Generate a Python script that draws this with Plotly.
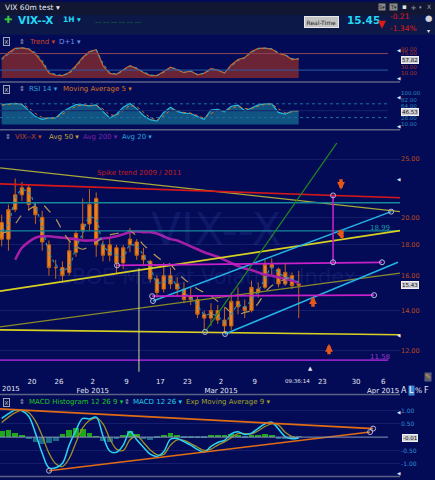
import math
import plotly.graph_objects as go

W, H = 435, 480
def X(px): return px / W
def Y(py): return 1 - py / H
def dom(top, bot): return [1 - bot / H, 1 - top / H]

BG = "#030b57"
FONT = "DejaVu Sans"

# ---------------- data (one value per session) ----------------
dates = ["2015-01-12","2015-01-13","2015-01-14","2015-01-15","2015-01-16","2015-01-20","2015-01-21",
         "2015-01-22","2015-01-23","2015-01-26","2015-01-27","2015-01-28","2015-01-29","2015-01-30",
         "2015-02-02","2015-02-03","2015-02-04","2015-02-05","2015-02-06","2015-02-09","2015-02-10",
         "2015-02-11","2015-02-12","2015-02-13","2015-02-17","2015-02-18","2015-02-19","2015-02-20",
         "2015-02-23","2015-02-24","2015-02-25","2015-02-26","2015-02-27","2015-03-02","2015-03-03",
         "2015-03-04","2015-03-05","2015-03-06","2015-03-09","2015-03-10","2015-03-11","2015-03-12",
         "2015-03-13","2015-03-16","2015-03-17"]
opens  = [19.6,18.4,20.6,21.8,22.4,20.8,20.0,18.0,16.5,16.5,16.2,17.5,19.0,19.5,21.5,18.0,17.3,17.8,16.8,
          18.0,18.2,17.3,16.9,15.8,15.2,16.0,15.5,15.2,14.8,14.6,13.8,13.6,14.0,13.5,13.2,14.5,14.2,14.0,
          15.2,15.3,16.7,16.4,15.5,16.0,15.5]
highs  = [20.2,21.0,23.2,22.9,22.7,21.2,20.5,18.3,17.0,16.9,18.4,19.0,21.5,22.3,22.0,18.3,18.5,18.0,18.0,
          19.2,18.4,17.8,17.0,16.0,16.8,16.5,15.9,15.6,15.3,14.8,14.0,14.4,14.3,14.2,15.0,15.3,14.6,15.7,
          15.6,17.0,17.1,16.5,16.8,16.2,16.3]
lows   = [17.9,17.6,20.4,21.3,20.5,19.5,17.6,16.0,15.8,15.6,16.0,17.2,18.4,19.0,17.2,16.9,16.9,16.1,16.4,
          17.5,17.0,16.6,15.6,14.7,15.0,15.2,14.8,14.4,14.3,13.6,13.0,13.2,13.3,12.85,13.0,13.8,13.6,13.9,
          14.7,15.2,16.0,15.3,15.4,15.2,13.6]
closes = [18.4,20.6,21.8,22.4,21.0,20.2,18.2,16.5,16.5,16.0,17.6,18.8,19.5,21.0,18.0,17.3,18.0,16.8,17.8,
          18.4,17.3,17.0,15.8,15.0,16.0,15.5,15.2,14.6,14.6,13.8,13.6,14.0,13.5,13.2,14.5,14.2,14.0,15.3,
          15.0,16.7,16.5,15.5,16.2,15.4,15.43]
avg20  = [19.0,19.5,21.5,22.2,22.0,20.8,19.3,17.5,16.7,16.3,16.6,17.8,18.8,20.0,19.8,18.0,17.5,17.3,17.2,
          18.0,17.9,17.3,16.6,15.6,15.6,15.8,15.4,15.0,14.7,14.3,13.8,13.8,13.7,13.4,13.8,14.3,14.2,14.6,
          15.1,15.8,16.5,16.2,15.9,15.8,15.6]
avg50  = [18.8,19.0,19.5,20.2,20.6,20.9,21.0,20.5,19.9,19.0,18.3,17.9,17.7,17.9,18.2,18.5,18.7,18.8,18.9,
          19.0,18.6,18.0,17.6,17.2,16.9,16.7,16.2,15.8,15.5,15.2,15.0,14.8,14.5,14.2,13.9,13.8,13.9,14.0,
          14.4,15.0,15.4,15.6,15.8,15.9,16.0]
avg200 = [None,None,17.0,17.8,18.2,18.5,18.6,18.6,18.55,18.5,18.45,18.4,18.3,18.3,18.35,18.45,18.5,18.6,
          18.75,18.9,18.95,18.9,18.9,18.8,18.6,18.4,18.3,18.1,17.9,17.7,17.5,17.35,17.2,17.0,16.8,16.6,
          16.45,16.35,16.2,16.05,16.0,15.9,15.8,15.7,15.55]
trend  = [58,78,92,94,90,73,45,10,3,2,12,35,62,82,88,35,9,6,21,35,25,12,2,2,15,30,21,12,17,4,10,25,20,10,
          37,55,62,82,92,93,90,75,70,55,57]
trend2 = [55,72,90,94,91,78,52,15,5,3,8,30,58,80,88,42,12,6,18,33,27,14,4,2,12,28,23,13,16,6,9,22,21,12,
          32,52,60,79,91,93,91,78,71,58,57]
rsi    = [68,70,71,68,50,33,25,29,29,47,58,68,67,64,67,48,29,40,60,71,56,36,24,20,45,60,48,43,42,33,25,52,
          54,47,63,66,50,58,67,70,70,45,40,49,50]
rsi_ma5 = [66,69,70,70,58,42,30,28,29,40,52,63,66,65,65,55,38,36,50,65,62,45,30,22,35,52,52,45,43,36,28,
           42,51,50,57,63,56,56,63,68,70,55,44,46,49]
macd   = [0.70,0.88,1.02,0.99,0.78,0.15,-0.60,-1.15,-1.15,-0.98,-0.30,0.25,0.70,0.68,0.75,0.05,-0.52,-0.57,
          -0.30,0.21,-0.10,-0.38,-0.64,-0.72,-0.55,-0.08,-0.05,-0.17,-0.30,-0.46,-0.56,-0.35,-0.20,-0.12,
          0.12,0.20,0.10,0.15,0.33,0.50,0.56,0.30,0.02,-0.06,-0.03]
signal = [0.55,0.75,0.92,1.00,0.92,0.60,0.05,-0.60,-1.00,-1.10,-0.80,-0.20,0.35,0.62,0.72,0.50,-0.05,-0.45,
          -0.50,-0.10,0.05,-0.20,-0.48,-0.66,-0.65,-0.30,-0.10,-0.12,-0.24,-0.38,-0.50,-0.45,-0.30,-0.18,
          -0.02,0.13,0.13,0.12,0.24,0.40,0.50,0.45,0.18,0.02,-0.02]
hist   = [0.20,0.25,0.15,0.05,-0.08,-0.20,-0.27,-0.25,-0.15,0.10,0.25,0.33,0.30,0.15,0.02,-0.15,-0.20,-0.10,
          0.05,0.20,0.10,-0.08,-0.12,-0.05,0.08,0.15,0.05,-0.03,-0.05,-0.05,-0.04,0.05,0.08,0.05,0.09,0.06,
          -0.03,0.03,0.08,0.10,0.07,-0.08,-0.10,-0.04,-0.01]

tick_dates = ["2015-01-20","2015-01-26","2015-02-02","2015-02-09","2015-02-17","2015-02-23",
              "2015-03-02","2015-03-09","2015-03-23","2015-03-30","2015-04-06"]
tick_text = ["20","26","2<br>Feb 2015","9","17","23","2<br>Mar 2015","9","23","30","6<br>Apr 2015"]

price_ticks = [12, 14, 16, 18, 20, 25]
trend_ticks = [10, 30, 75, 90]
rsi_ticks = [10, 28, 64, 82, 100]
macd_ticks = [-1.0, -0.5, 0.5, 1.0]

# drawn trend lines: (start date, start value, end date, end value, colour, width)
XR0, XR1 = "2015-01-12 06:00", "2015-04-08 12:00"
price_lines = [
    (XR0, 24.16, XR1, 20.44, "#a8a838", 1.3),
    (XR0, 22.73, XR1, 21.56, "#d81818", 1.6),
    (XR0, 21.15, XR1, 21.15, "#17879a", 1.4),
    (XR0, 18.99, XR1, 18.99, "#17879a", 1.4),
    (XR0, 15.08, XR1, 19.01, "#d8d020", 1.6),
    (XR0, 13.15, XR1, 16.15, "#8a8a28", 1.2),
    (XR0, 13.00, XR1, 12.76, "#d8d020", 1.6),
    ("2015-02-25 15:00", 12.90, "2015-03-25 08:00", 26.77, "#1f8a1f", 1.2),
    ("2015-02-12 22:00", 14.52, "2015-04-07 04:30", 20.44, "#22b4e4", 1.5),
    ("2015-03-02 14:00", 12.80, "2015-04-08 05:00", 16.84, "#22b4e4", 1.5),
    ("2015-02-05 14:00", 16.64, "2015-04-02 20:00", 16.84, "#c820c8", 1.8),
    ("2015-02-12 18:40", 14.79, "2015-04-01 16:00", 14.85, "#c820c8", 1.8),
    (XR0, 11.58, "2015-04-06 18:00", 11.58, "#8a22c4", 1.6),
    ("2015-03-24 14:00", 21.75, "2015-03-24 14:00", 16.84, "#c820c8", 1.6),
    ("2015-02-10 20:00", 16.46, "2015-02-10 20:00", 11.00, "#d8d890", 1.0),
]
price_nodes = [("2015-02-12 22:00", 14.52), ("2015-04-07 04:30", 20.44), ("2015-02-25 15:00", 12.90),
               ("2015-03-02 14:00", 12.80), ("2015-02-05 14:00", 16.64), ("2015-04-02 20:00", 16.84),
               ("2015-02-12 18:40", 14.79), ("2015-04-01 16:00", 14.85), ("2015-03-24 14:00", 21.75),
               ("2015-03-24 14:00", 16.84)]
macd_lines = [(XR0, 1.06, "2015-04-01 12:30", 0.32), ("2015-01-22 12:30", -1.26, "2015-04-01 01:40", 0.19)]
macd_nodes = [("2015-04-01 12:30", 0.32), ("2015-01-22 12:30", -1.26), ("2015-04-01 01:40", 0.19)]

# ---------------- figure ----------------
t = [d + " 12:00" for d in dates]
fig = go.Figure()

# Trend panel
fig.add_trace(go.Scatter(x=[t[0], t[-1]], y=[-6.3, -6.3], mode="lines", line=dict(width=0),
                         xaxis="x", yaxis="y", hoverinfo="skip"))
fig.add_trace(go.Scatter(x=t, y=trend, mode="lines", fill="tonexty", fillcolor="rgba(112,38,52,0.95)",
                         line=dict(color="#d8601e", width=1.2), xaxis="x", yaxis="y"))
fig.add_trace(go.Scatter(x=t, y=trend2, mode="lines", line=dict(color="#22a8d0", width=1, dash="dot"),
                         xaxis="x", yaxis="y"))

# RSI panel
fig.add_trace(go.Scatter(x=[t[0], t[-1]], y=[10, 10], mode="lines", line=dict(width=0),
                         xaxis="x2", yaxis="y2", hoverinfo="skip"))
fig.add_trace(go.Scatter(x=t, y=rsi, mode="lines", fill="tonexty", fillcolor="rgba(18,88,132,0.95)",
                         line=dict(color="#25b8e0", width=1.2), xaxis="x2", yaxis="y2"))
fig.add_trace(go.Scatter(x=t, y=rsi_ma5, mode="lines", line=dict(color="#d87020", width=1, dash="dot"),
                         xaxis="x2", yaxis="y2"))

# Price panel
fig.add_trace(go.Candlestick(x=t, open=opens, high=highs, low=lows, close=closes,
                             increasing=dict(line=dict(color="#c86412", width=1), fillcolor="#e8821e"),
                             decreasing=dict(line=dict(color="#c86412", width=1), fillcolor="#e8821e"),
                             whiskerwidth=0, xaxis="x3", yaxis="y3"))
fig.add_trace(go.Scatter(x=t, y=avg200, mode="lines", line=dict(color="#a41ea8", width=2.6, shape="spline"),
                         xaxis="x3", yaxis="y3"))
fig.add_trace(go.Scatter(x=t, y=avg50, mode="lines", line=dict(color="#b89858", width=1.2, dash="dash", shape="spline"),
                         xaxis="x3", yaxis="y3"))
fig.add_trace(go.Scatter(x=t, y=avg20, mode="lines", line=dict(color="#1c94c4", width=1.2, dash="dot", shape="spline"),
                         xaxis="x3", yaxis="y3"))
for x0, y0, x1, y1, c, w in price_lines:
    fig.add_trace(go.Scatter(x=[x0, x1], y=[y0, y1], mode="lines", line=dict(color=c, width=w),
                             xaxis="x3", yaxis="y3", hoverinfo="skip"))
fig.add_trace(go.Scatter(x=[n[0] for n in price_nodes], y=[n[1] for n in price_nodes], mode="markers",
                         marker=dict(symbol="circle-open", size=5, color="#b8b8d8", line=dict(width=1)),
                         xaxis="x3", yaxis="y3"))

# MACD panel
fig.add_trace(go.Bar(x=t, y=hist, width=0.85 * 86400000,
                     marker=dict(color=["#1ea81e" if v >= 0 else "#1a6a8a" for v in hist], line=dict(width=0)),
                     xaxis="x4", yaxis="y4"))
fig.add_trace(go.Scatter(x=t, y=signal, mode="lines", line=dict(color="#a09024", width=1.3, shape="spline"),
                         xaxis="x4", yaxis="y4"))
fig.add_trace(go.Scatter(x=t, y=macd, mode="lines", line=dict(color="#28d4f4", width=1.5, shape="spline"),
                         xaxis="x4", yaxis="y4"))
for x0, y0, x1, y1 in macd_lines:
    fig.add_trace(go.Scatter(x=[x0, x1], y=[y0, y1], mode="lines", line=dict(color="#e06c14", width=1.6),
                             xaxis="x4", yaxis="y4", hoverinfo="skip"))
fig.add_trace(go.Scatter(x=[n[0] for n in macd_nodes], y=[n[1] for n in macd_nodes], mode="markers",
                         marker=dict(symbol="circle-open", size=5, color="#b8b8d8", line=dict(width=1)),
                         xaxis="x4", yaxis="y4"))

# ---------------- axes ----------------
RB = [dict(bounds=["sat", "mon"]), dict(values=["2015-01-19", "2015-02-16", "2015-04-03"])]
XD = [0, 400 / W]
def xax(anchor, **kw):
    d = dict(type="date", range=[XR0, XR1], rangebreaks=RB, domain=XD, anchor=anchor, showgrid=False,
             zeroline=False, showline=False, showticklabels=False, ticks="", fixedrange=True)
    d.update(kw)
    return d
def yax(anchor, domain, rng, tv, tt, color, grid=False, size=6, **kw):
    d = dict(domain=domain, range=rng, anchor=anchor, side="right", tickvals=tv, ticktext=tt,
             tickfont=dict(size=size, color=color, family=FONT), showgrid=grid, gridcolor="#141e6c",
             gridwidth=1, zeroline=False, showline=False, ticks="", fixedrange=True)
    d.update(kw)
    return d
fmt = lambda v: "%.2f" % v

fig.update_layout(
    width=W, height=H, margin=dict(l=0, r=0, t=0, b=0), paper_bgcolor=BG, plot_bgcolor=BG,
    showlegend=False, font=dict(family=FONT, size=7, color="#d8dcec"), bargap=0,
    xaxis=xax("y"), xaxis2=xax("y2"), xaxis4=xax("y4"),
    xaxis3=xax("y3", showticklabels=True, tickvals=tick_dates, ticktext=tick_text, ticklabelstandoff=4,
               tickfont=dict(size=7, color="#e4e6f2", family=FONT)),
    yaxis=yax("x", dom(44, 76.5), [-6.3, 101], trend_ticks, [fmt(v) for v in trend_ticks], "#a8382a", size=5.5),
    yaxis2=yax("x2", dom(91, 125), [5.1, 102.9], rsi_ticks, [fmt(v) for v in rsi_ticks], "#2a86bc", size=5.5),
    yaxis3=yax("x3", dom(142, 372), [math.log10(11.08), math.log10(26.57)], price_ticks,
               [fmt(v) for v in price_ticks], "#bc4a1a", grid=True, type="log", size=6.5),
    yaxis4=yax("x4", dom(408, 477), [-1.458, 1.112], macd_ticks, [fmt(v) for v in macd_ticks], "#2a92d4",
               grid=True, size=6),
)
fig.update_xaxes(rangeslider_visible=False)

# ---------------- shapes ----------------
shapes = [
    dict(type="rect", xref="paper", yref="paper", x0=0, x1=1, y0=Y(13), y1=Y(0), fillcolor="#111732", line=dict(width=0), layer="below"),
    dict(type="rect", xref="paper", yref="paper", x0=0, x1=1, y0=Y(33), y1=Y(13), fillcolor="#0b1848", line=dict(width=0), layer="below"),
]
for py in (80.5, 128.5, 395, 477.5):
    shapes.append(dict(type="line", xref="paper", yref="paper", x0=0, x1=X(400), y0=Y(py), y1=Y(py),
                       line=dict(color="#5c6284", width=1.5)))
shapes += [
    dict(type="line", xref="paper", yref="y", x0=0, x1=X(388), y0=75, y1=75, line=dict(color="#8a4656", width=1)),
    dict(type="line", xref="paper", yref="y", x0=0, x1=X(388), y0=20, y1=20, line=dict(color="#2a5ca6", width=1)),
    dict(type="line", xref="paper", yref="y2", x0=0, x1=X(388), y0=70, y1=70, line=dict(color="#1a72a4", width=1, dash="dot")),
    dict(type="line", xref="paper", yref="y2", x0=0, x1=X(388), y0=30, y1=30, line=dict(color="#1a72a4", width=1, dash="dot")),
    dict(type="line", xref="paper", yref="y2", x0=0, x1=X(388), y0=50, y1=50, line=dict(color="#16246e", width=1)),
    dict(type="line", xref="paper", yref="y4", x0=0, x1=X(388), y0=0, y1=0, line=dict(color="#8896b4", width=1)),
]
fig.update_layout(shapes=shapes)

# ---------------- annotations ----------------
ann = []
def txt(x, y, s, color="#d8dcec", size=7, anchor="left", **kw):
    d = dict(x=X(x), y=Y(y), xref="paper", yref="paper", text=s, showarrow=False, xanchor=anchor,
             yanchor="middle", font=dict(family=FONT, size=size, color=color))
    d.update(kw)
    ann.append(d)

# watermark
txt(216, 229, "VIX--X", "rgba(95,115,225,0.13)", 44, "center")
txt(206, 277, "CBOE Market Volatility Index", "rgba(95,115,225,0.13)", 21, "center")

# title bar & quote
txt(3, 6, "VIX 60m test ▾", "#e8e8f0", 7.5)
txt(382, 5.5, "S▾", "#202020", 5, "center", bgcolor="#8a8a8a", borderpad=0)
txt(393, 5.5, "T▾", "#202020", 5, "center", bgcolor="#8a8a8a", borderpad=0)
txt(404, 5.5, "▪", "#e0e0e8", 7, "center")
txt(413, 5.5, "✛", "#a0a4b8", 6, "center")
txt(420, 5.5, "▾", "#a0a4b8", 5, "center")
txt(429, 5, "X", "#a0a4b8", 6, "center")
txt(2, 18, "✚", "#3cc83c", 10)
txt(16, 18, "<b>VIX--X</b>", "#22d8f2", 10.5)
txt(61, 18, "<b>1H</b> ▾", "#22d8f2", 7.5)
txt(93, 20, "‒‒ ‒‒ ‒‒ ‒‒ ‒‒ ‒‒", "#1e9a3e", 5)
txt(321, 20, "Real-Time", "#202020", 6, "center", bgcolor="#c4c4c4", bordercolor="#e8e8e8", borderwidth=1, borderpad=1.5)
txt(345, 18, "<b>15.45</b>", "#22d8f2", 10.5)
txt(388, 15, "-0.21", "#e01818", 7.5)
txt(388, 27, "-1.34%", "#e01818", 7.5)
ann.append(dict(x=X(382), y=Y(27), xref="paper", yref="paper", ax=0, ay=-9, text="", showarrow=True,
                arrowhead=2, arrowsize=0.8, arrowwidth=2, arrowcolor="#e01818"))
txt(428, 16, "●", "#d0d2dc", 8.5, "center")
txt(428, 29, "▾", "#e0e0e8", 6, "center")

# panel headers
def xbox(y):
    txt(6, y, "X", "#c8c8d8", 5.5, "center", bordercolor="#a0a4b8", borderwidth=1, borderpad=0.5, bgcolor="#0a1250")
xbox(40); txt(17, 40, "⇕", "#a0a4b8", 7)
txt(27, 40, "Trend ▾", "#d0441e", 7)
txt(57, 40, "D+1 ▾", "#7090e8", 7)
xbox(88); txt(17, 88, "⇕", "#a0a4b8", 7)
txt(27, 88, "RSI 14 ▾", "#2ea4da", 7)
txt(61, 88, "Moving Average 5 ▾", "#d4701e", 7)
txt(3, 136, "⇕", "#a0a4b8", 7)
txt(13, 136, "VIX--X ▾", "#c0461a", 7)
txt(47, 136, "Avg 50 ▾", "#c4a444", 7)
txt(81, 136, "Avg 200 ▾", "#7a22a8", 7)
txt(120, 136, "Avg 20 ▾", "#24a4dc", 7)
xbox(403); txt(17, 403, "⇕", "#a0a4b8", 7)
txt(27, 403, "MACD Histogram 12 26 9 ▾", "#22c422", 7)
txt(122, 403, "⇕", "#a0a4b8", 7)
txt(131, 403, "MACD 12 26 ▾", "#24cce8", 7)
txt(184, 403, "Exp Moving Average 9 ▾", "#a4a424", 7)

# value boxes
for y, s in ((58.2, "57.82"), (110.6, "46.53"), (285, "15.43"), (438.6, "-0.01")):
    txt(409.5, y, s, "#101010", 5.5, "center", bgcolor="#d0d0d4", bordercolor="#f0f0f0", borderwidth=1, borderpad=0)
for y in (49, 77, 96, 125, 179, 336, 413, 474):
    txt(398.5, y, "◀", "#e0e2f0", 4.5, "center")

# chart texts
txt(95, 172, "Spike trend 2009 / 2011", "#c81c1c", 7)
txt(380, 227, "18.99", "#1f94a6", 7, "center")
txt(380, 357, "11.58", "#9a34cc", 7, "center")
txt(0, 389, "2015", "#e4e6f2", 7, "left")
txt(297, 381, "09:36:14", "#e4e6f2", 5.5, "center")
txt(310, 368, "▲", "#e4e6f2", 5.5, "center")
txt(404, 391, "A", "#e4e6f2", 8, "center")
txt(411, 391, "L", "#ffffff", 8, "center", bgcolor="#3c86d8", borderpad=0)
txt(418.5, 391, "%", "#e4e6f2", 7.5, "center")
txt(426, 391, "F", "#e4e6f2", 8, "center")
txt(428, 377, "✎", "#e8a030", 7, "center", bgcolor="#5a5e74", borderpad=0)

# orange arrows
for tip, dx, dy in (((341, 189), 0, -12), ((343, 239), -4, -11), ((313, 296), 0, 12), ((329, 344), 0, 12)):
    ann.append(dict(x=X(tip[0]), y=Y(tip[1]), xref="paper", yref="paper", ax=dx, ay=dy, text="",
                    showarrow=True, arrowhead=2, arrowsize=0.45, arrowwidth=3.5, arrowcolor="#e4561a"))

fig.update_layout(annotations=ann)
fig.write_html("out.html")
